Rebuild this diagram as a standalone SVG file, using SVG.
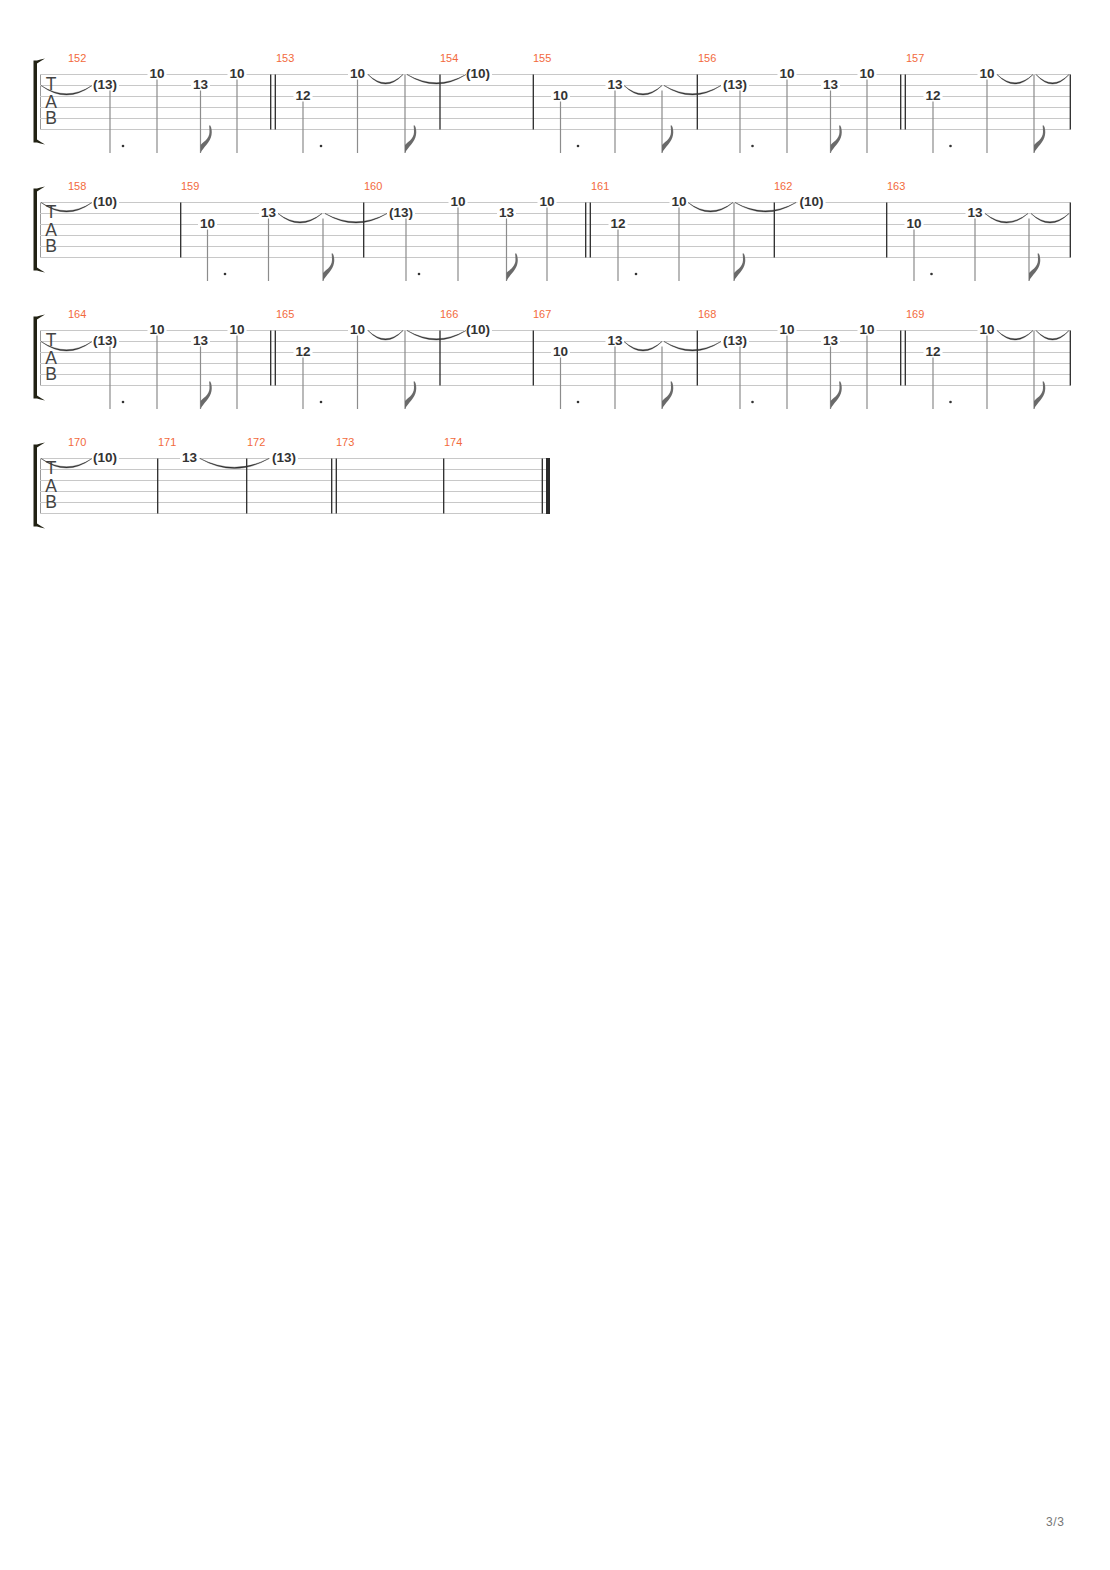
<svg xmlns="http://www.w3.org/2000/svg" width="1110" height="1570" viewBox="0 0 1110 1570">
<style>
.bgp{fill:#fff}
.staff{stroke:#c8c8c8;stroke-width:1;fill:none}
.start{stroke:#999;stroke-width:1;fill:none}
.bar{stroke:#2b2b2b;stroke-width:1.3;fill:none}
.stem{stroke:#8c8c8c;stroke-width:1.2;fill:none}
.tie{fill:#333;stroke:#333;stroke-width:0.4}
.flag{fill:#6a6a6a}
.dot{fill:#333}
.brk{fill:#222214}
.m{font-family:"Liberation Sans",Arial,sans-serif;font-size:11px;fill:#f26a3c}
.n{font-family:"Liberation Sans",Arial,sans-serif;font-size:13.5px;font-weight:bold;fill:#333;text-anchor:middle}
.nb{fill:#fff}
.clef{font-family:"Liberation Sans",Arial,sans-serif;font-size:17.5px;fill:#444;text-anchor:middle}
.pg{font-family:"Liberation Sans",Arial,sans-serif;font-size:12px;fill:#777;letter-spacing:0.6px}
</style>
<defs>
<path id="flag" class="flag" d="M0,0 L0,-8 C1.5,-10 9,-14 9,-21 C9,-24 8.8,-26 8.6,-27.5 L9.8,-27.5 C11.2,-25 11.6,-21 11,-18 C10,-11 3,-6 0,0 Z"/>
<circle id="dot" class="dot" r="1.3"/>
</defs>
<rect class="bgp" x="0" y="0" width="1110" height="1570"/>

<!-- ===== System 1 ===== -->
<g id="system1">
<path class="brk" d="M33.5,60.5 H37 Q40,59.5 45,58.5 Q40,61.5 37,63.5 V139.5 Q40,141.5 45,144.5 Q40,143.5 37,142.5 H33.5 Z"/>
<path class="start" d="M40.5,74.5 V129.5"/>
<path class="staff" d="M40,74.5H1070.5M40,85.5H1070.5M40,96.5H1070.5M40,107.5H1070.5M40,118.5H1070.5M40,129.5H1070.5"/>
<text class="clef"><tspan x="51" y="90">T</tspan><tspan x="51" y="107.5">A</tspan><tspan x="51" y="123.5">B</tspan></text>
<path class="bar" d="M270.7,74.5V129.5M275.3,74.5V129.5M440,74.5V129.5M533.3,74.5V129.5M697.3,74.5V129.5M900.7,74.5V129.5M905.3,74.5V129.5M1070.3,74.5V129.5"/>
<g id="m152"><text class="m" x="68" y="62">152</text></g>
<g id="m153"><text class="m" x="276" y="62">153</text></g>
<g id="m154"><text class="m" x="440" y="62">154</text></g>
<g id="m155"><text class="m" x="533" y="62">155</text></g>
<g id="m156"><text class="m" x="698" y="62">156</text></g>
<g id="m157"><text class="m" x="906" y="62">157</text></g>
<path class="stem" d="M110,90.5V153M157,79.5V153M200.5,90.5V153M237,79.5V153M303,101.5V153M357.5,79.5V153M405,75V153M560.5,101.5V153M615,90.5V153M662,90.5V153M740,90.5V153M787,79.5V153M830.5,90.5V153M867,79.5V153M933,101.5V153M987,79.5V153M1034,75V153"/>
<use href="#flag" x="200.5" y="153"/><use href="#flag" x="405" y="153"/><use href="#flag" x="662" y="153"/><use href="#flag" x="830.5" y="153"/><use href="#flag" x="1034" y="153"/>
<use href="#dot" x="123" y="146"/><use href="#dot" x="321" y="146"/><use href="#dot" x="578" y="146"/><use href="#dot" x="752.5" y="146"/><use href="#dot" x="950.5" y="146"/>
<g id="notes1">
<rect class="nb" x="91" y="83" width="28" height="5"/><text class="n" x="105" y="88.5">(13)</text>
<rect class="nb" x="147.5" y="72" width="19" height="5"/><text class="n" x="157" y="77.5">10</text>
<rect class="nb" x="191" y="83" width="19" height="5"/><text class="n" x="200.5" y="88.5">13</text>
<rect class="nb" x="227.5" y="72" width="19" height="5"/><text class="n" x="237" y="77.5">10</text>
<rect class="nb" x="293.5" y="94" width="19" height="5"/><text class="n" x="303" y="99.5">12</text>
<rect class="nb" x="348" y="72" width="19" height="5"/><text class="n" x="357.5" y="77.5">10</text>
<rect class="nb" x="464" y="72" width="28" height="5"/><text class="n" x="478" y="77.5">(10)</text>
<rect class="nb" x="551" y="94" width="19" height="5"/><text class="n" x="560.5" y="99.5">10</text>
<rect class="nb" x="605.5" y="83" width="19" height="5"/><text class="n" x="615" y="88.5">13</text>
<rect class="nb" x="721" y="83" width="28" height="5"/><text class="n" x="735" y="88.5">(13)</text>
<rect class="nb" x="777.5" y="72" width="19" height="5"/><text class="n" x="787" y="77.5">10</text>
<rect class="nb" x="821" y="83" width="19" height="5"/><text class="n" x="830.5" y="88.5">13</text>
<rect class="nb" x="857.5" y="72" width="19" height="5"/><text class="n" x="867" y="77.5">10</text>
<rect class="nb" x="923.5" y="94" width="19" height="5"/><text class="n" x="933" y="99.5">12</text>
<rect class="nb" x="977.5" y="72" width="19" height="5"/><text class="n" x="987" y="77.5">10</text>
</g>
</g>

<!-- ===== System 2 ===== -->
<g id="system2">
<path class="brk" d="M33.5,188.5 H37 Q40,187.5 45,186.5 Q40,189.5 37,191.5 V267.5 Q40,269.5 45,272.5 Q40,271.5 37,270.5 H33.5 Z"/>
<path class="start" d="M40.5,202.5 V257.5"/>
<path class="staff" d="M40,202.5H1070.5M40,213.5H1070.5M40,224.5H1070.5M40,235.5H1070.5M40,246.5H1070.5M40,257.5H1070.5"/>
<text class="clef"><tspan x="51" y="218">T</tspan><tspan x="51" y="235.5">A</tspan><tspan x="51" y="251.5">B</tspan></text>
<path class="bar" d="M180.7,202.5V257.5M363.7,202.5V257.5M585.7,202.5V257.5M590.3,202.5V257.5M774.3,202.5V257.5M886.7,202.5V257.5M1070.3,202.5V257.5"/>
<g id="m158"><text class="m" x="68" y="190">158</text></g>
<g id="m159"><text class="m" x="181" y="190">159</text></g>
<g id="m160"><text class="m" x="364" y="190">160</text></g>
<g id="m161"><text class="m" x="591" y="190">161</text></g>
<g id="m162"><text class="m" x="774" y="190">162</text></g>
<g id="m163"><text class="m" x="887" y="190">163</text></g>
<path class="stem" d="M207.5,229.5V281M268.5,218.5V281M323,218.5V281M406,218.5V281M458,207.5V281M506.5,218.5V281M547,207.5V281M618,229.5V281M679,207.5V281M734,203V281M914,229.5V281M975,218.5V281M1029,218.5V281"/>
<use href="#flag" x="323" y="281"/><use href="#flag" x="506.5" y="281"/><use href="#flag" x="734" y="281"/><use href="#flag" x="1029" y="281"/>
<use href="#dot" x="225" y="274"/><use href="#dot" x="419" y="274"/><use href="#dot" x="636" y="274"/><use href="#dot" x="931.5" y="274"/>
<g id="notes2">
<rect class="nb" x="91" y="200" width="28" height="5"/><text class="n" x="105" y="205.5">(10)</text>
<rect class="nb" x="198" y="222" width="19" height="5"/><text class="n" x="207.5" y="227.5">10</text>
<rect class="nb" x="259" y="211" width="19" height="5"/><text class="n" x="268.5" y="216.5">13</text>
<rect class="nb" x="387" y="211" width="28" height="5"/><text class="n" x="401" y="216.5">(13)</text>
<rect class="nb" x="448.5" y="200" width="19" height="5"/><text class="n" x="458" y="205.5">10</text>
<rect class="nb" x="497" y="211" width="19" height="5"/><text class="n" x="506.5" y="216.5">13</text>
<rect class="nb" x="537.5" y="200" width="19" height="5"/><text class="n" x="547" y="205.5">10</text>
<rect class="nb" x="608.5" y="222" width="19" height="5"/><text class="n" x="618" y="227.5">12</text>
<rect class="nb" x="669.5" y="200" width="19" height="5"/><text class="n" x="679" y="205.5">10</text>
<rect class="nb" x="797.5" y="200" width="28" height="5"/><text class="n" x="811.5" y="205.5">(10)</text>
<rect class="nb" x="904.5" y="222" width="19" height="5"/><text class="n" x="914" y="227.5">10</text>
<rect class="nb" x="965.5" y="211" width="19" height="5"/><text class="n" x="975" y="216.5">13</text>
</g>
</g>

<!-- ===== System 3 ===== -->
<g id="system3">
<path class="brk" d="M33.5,316.5 H37 Q40,315.5 45,314.5 Q40,317.5 37,319.5 V395.5 Q40,397.5 45,400.5 Q40,399.5 37,398.5 H33.5 Z"/>
<path class="start" d="M40.5,330.5 V385.5"/>
<path class="staff" d="M40,330.5H1070.5M40,341.5H1070.5M40,352.5H1070.5M40,363.5H1070.5M40,374.5H1070.5M40,385.5H1070.5"/>
<text class="clef"><tspan x="51" y="346">T</tspan><tspan x="51" y="363.5">A</tspan><tspan x="51" y="379.5">B</tspan></text>
<path class="bar" d="M270.7,330.5V385.5M275.3,330.5V385.5M440,330.5V385.5M533.3,330.5V385.5M697.3,330.5V385.5M900.7,330.5V385.5M905.3,330.5V385.5M1070.3,330.5V385.5"/>
<g id="m164"><text class="m" x="68" y="318">164</text></g>
<g id="m165"><text class="m" x="276" y="318">165</text></g>
<g id="m166"><text class="m" x="440" y="318">166</text></g>
<g id="m167"><text class="m" x="533" y="318">167</text></g>
<g id="m168"><text class="m" x="698" y="318">168</text></g>
<g id="m169"><text class="m" x="906" y="318">169</text></g>
<path class="stem" d="M110,346.5V409M157,335.5V409M200.5,346.5V409M237,335.5V409M303,357.5V409M357.5,335.5V409M405,331V409M560.5,357.5V409M615,346.5V409M662,346.5V409M740,346.5V409M787,335.5V409M830.5,346.5V409M867,335.5V409M933,357.5V409M987,335.5V409M1034,331V409"/>
<use href="#flag" x="200.5" y="409"/><use href="#flag" x="405" y="409"/><use href="#flag" x="662" y="409"/><use href="#flag" x="830.5" y="409"/><use href="#flag" x="1034" y="409"/>
<use href="#dot" x="123" y="402"/><use href="#dot" x="321" y="402"/><use href="#dot" x="578" y="402"/><use href="#dot" x="752.5" y="402"/><use href="#dot" x="950.5" y="402"/>
<g id="notes3">
<rect class="nb" x="91" y="339" width="28" height="5"/><text class="n" x="105" y="344.5">(13)</text>
<rect class="nb" x="147.5" y="328" width="19" height="5"/><text class="n" x="157" y="333.5">10</text>
<rect class="nb" x="191" y="339" width="19" height="5"/><text class="n" x="200.5" y="344.5">13</text>
<rect class="nb" x="227.5" y="328" width="19" height="5"/><text class="n" x="237" y="333.5">10</text>
<rect class="nb" x="293.5" y="350" width="19" height="5"/><text class="n" x="303" y="355.5">12</text>
<rect class="nb" x="348" y="328" width="19" height="5"/><text class="n" x="357.5" y="333.5">10</text>
<rect class="nb" x="464" y="328" width="28" height="5"/><text class="n" x="478" y="333.5">(10)</text>
<rect class="nb" x="551" y="350" width="19" height="5"/><text class="n" x="560.5" y="355.5">10</text>
<rect class="nb" x="605.5" y="339" width="19" height="5"/><text class="n" x="615" y="344.5">13</text>
<rect class="nb" x="721" y="339" width="28" height="5"/><text class="n" x="735" y="344.5">(13)</text>
<rect class="nb" x="777.5" y="328" width="19" height="5"/><text class="n" x="787" y="333.5">10</text>
<rect class="nb" x="821" y="339" width="19" height="5"/><text class="n" x="830.5" y="344.5">13</text>
<rect class="nb" x="857.5" y="328" width="19" height="5"/><text class="n" x="867" y="333.5">10</text>
<rect class="nb" x="923.5" y="350" width="19" height="5"/><text class="n" x="933" y="355.5">12</text>
<rect class="nb" x="977.5" y="328" width="19" height="5"/><text class="n" x="987" y="333.5">10</text>
</g>
</g>

<!-- ===== System 4 ===== -->
<g id="system4">
<path class="brk" d="M33.5,444.5 H37 Q40,443.5 45,442.5 Q40,445.5 37,447.5 V523.5 Q40,525.5 45,528.5 Q40,527.5 37,526.5 H33.5 Z"/>
<path class="start" d="M40.5,458.5 V513.5"/>
<path class="staff" d="M40,458.5H550M40,469.5H550M40,480.5H550M40,491.5H550M40,502.5H550M40,513.5H550"/>
<text class="clef"><tspan x="51" y="474">T</tspan><tspan x="51" y="491.5">A</tspan><tspan x="51" y="507.5">B</tspan></text>
<path class="bar" d="M157.7,458.5V513.5M246.7,458.5V513.5M331.7,458.5V513.5M336.3,458.5V513.5M443.7,458.5V513.5M542.3,458.5V513.5"/>
<rect x="546" y="458" width="4" height="56" fill="#2b2b2b"/>
<g id="m170"><text class="m" x="68" y="446">170</text></g>
<g id="m171"><text class="m" x="158" y="446">171</text></g>
<g id="m172"><text class="m" x="247" y="446">172</text></g>
<g id="m173"><text class="m" x="336" y="446">173</text></g>
<g id="m174"><text class="m" x="444" y="446">174</text></g>
<g id="notes4">
<rect class="nb" x="91" y="456" width="28" height="5"/><text class="n" x="105" y="461.5">(10)</text>
<rect class="nb" x="180" y="456" width="19" height="5"/><text class="n" x="189.5" y="461.5">13</text>
<rect class="nb" x="270" y="456" width="28" height="5"/><text class="n" x="284" y="461.5">(13)</text>
</g>
</g>

<!-- ===== Ties (connectors) ===== -->
<g id="ties">
<path class="tie" d="M41,85.5 Q66.5,104.5 92,85.5 Q66.5,102 41,85.5Z"/>
<path class="tie" d="M368,74.5 Q385.5,93.5 403,74.5 Q385.5,91 368,74.5Z"/>
<path class="tie" d="M407,74.5 Q436.5,93.5 466,74.5 Q436.5,91 407,74.5Z"/>
<path class="tie" d="M624,85.5 Q643,104.5 662,85.5 Q643,102 624,85.5Z"/>
<path class="tie" d="M664,85.5 Q692.5,104.5 721,85.5 Q692.5,102 664,85.5Z"/>
<path class="tie" d="M997,74.5 Q1015,93.5 1033,74.5 Q1015,91 997,74.5Z"/>
<path class="tie" d="M1036,74.5 Q1052.5,93.5 1069,74.5 Q1052.5,91 1036,74.5Z"/>

<path class="tie" d="M41,202.5 Q66.5,221.5 92,202.5 Q66.5,219 41,202.5Z"/>
<path class="tie" d="M278,213.5 Q300,232.5 322,213.5 Q300,230 278,213.5Z"/>
<path class="tie" d="M325,213.5 Q356,232.5 387,213.5 Q356,230 325,213.5Z"/>
<path class="tie" d="M688,202.5 Q710.5,221.5 733,202.5 Q710.5,219 688,202.5Z"/>
<path class="tie" d="M735,202.5 Q765.5,221.5 796,202.5 Q765.5,219 735,202.5Z"/>
<path class="tie" d="M985,213.5 Q1006.5,232.5 1028,213.5 Q1006.5,230 985,213.5Z"/>
<path class="tie" d="M1031,213.5 Q1050,232.5 1069,213.5 Q1050,230 1031,213.5Z"/>

<path class="tie" d="M41,341.5 Q66.5,360.5 92,341.5 Q66.5,358 41,341.5Z"/>
<path class="tie" d="M368,330.5 Q385.5,349.5 403,330.5 Q385.5,347 368,330.5Z"/>
<path class="tie" d="M407,330.5 Q436.5,349.5 466,330.5 Q436.5,347 407,330.5Z"/>
<path class="tie" d="M624,341.5 Q643,360.5 662,341.5 Q643,358 624,341.5Z"/>
<path class="tie" d="M664,341.5 Q692.5,360.5 721,341.5 Q692.5,358 664,341.5Z"/>
<path class="tie" d="M997,330.5 Q1015,349.5 1033,330.5 Q1015,347 997,330.5Z"/>
<path class="tie" d="M1036,330.5 Q1052.5,349.5 1069,330.5 Q1052.5,347 1036,330.5Z"/>

<path class="tie" d="M41,458.5 Q66.5,477.5 92,458.5 Q66.5,475 41,458.5Z"/>
<path class="tie" d="M200,458.5 Q234.5,478.5 269,458.5 Q234.5,476 200,458.5Z"/>
</g>

<text class="pg" x="1046" y="1525.5">3/3</text>
</svg>
